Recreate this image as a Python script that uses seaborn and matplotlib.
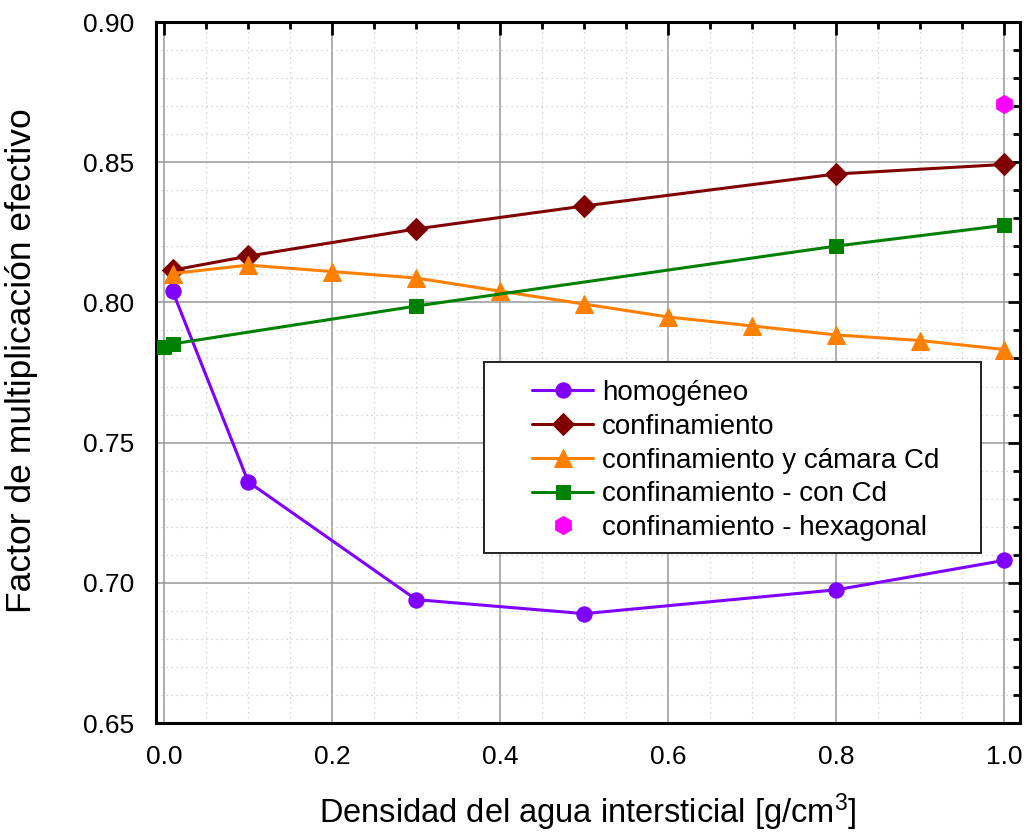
import numpy as np
import pandas as pd
import matplotlib
matplotlib.use("Agg")
import matplotlib.pyplot as plt
import matplotlib.lines as mlines
from matplotlib.patches import Rectangle
import seaborn as sns
from matplotlib.ticker import MultipleLocator, FormatStrFormatter

# ---- data ----
x_homog = [0.01, 0.1, 0.3, 0.5, 0.8, 1.0]
y_homog = [0.804, 0.736, 0.694, 0.689, 0.6975, 0.708]

x_conf = [0.01, 0.1, 0.3, 0.5, 0.8, 1.0]
y_conf = [0.8115, 0.8165, 0.8262, 0.8344, 0.8458, 0.8492]

x_camara = [0.01, 0.1, 0.2, 0.3, 0.4, 0.5, 0.6, 0.7, 0.8, 0.9, 1.0]
y_camara = [0.8103, 0.8133, 0.8110, 0.8087, 0.8040, 0.7994, 0.7948, 0.7916, 0.7884, 0.7864, 0.7832]

x_concd = [0.0, 0.01, 0.3, 0.8, 1.0]
y_concd = [0.7841, 0.7852, 0.7987, 0.8201, 0.8275]

x_hex = [1.0]
y_hex = [0.8706]

labels = ["homogéneo", "confinamiento", "confinamiento y cámara Cd",
          "confinamiento - con Cd", "confinamiento - hexagonal"]
colors = ["#8000FF", "#800000", "#FF8000", "#008000", "#FF00FF"]

sns.set_style("white")
plt.rcParams['font.family'] = ['Liberation Sans', 'DejaVu Sans']
plt.rcParams['mathtext.fontset'] = 'custom'
plt.rcParams['mathtext.rm'] = 'Liberation Sans'
plt.rcParams['mathtext.it'] = 'Liberation Sans'
plt.rcParams['text.color'] = 'black'
plt.rcParams['axes.labelcolor'] = 'black'
plt.rcParams['xtick.color'] = 'black'
plt.rcParams['ytick.color'] = 'black'

W, H = 1025, 838
fig = plt.figure(figsize=(W / 100, H / 100), dpi=100)
ax = fig.add_axes([156 / W, 1 - 723 / H, (1020 - 156) / W, (723 - 22) / H])

series = [
    (x_homog, y_homog, "o", 11),
    (x_conf, y_conf, "D", 11.5),
    (x_camara, y_camara, "^", 13),
    (x_concd, y_concd, "s", 10.5),
]
for (xs, ys, m, ms), lab, col in zip(series, labels[:4], colors[:4]):
    df = pd.DataFrame({"x": xs, "y": ys})
    sns.lineplot(data=df, x="x", y="y", ax=ax, color=col, marker=m,
                 markersize=ms, markeredgecolor=col, linewidth=2.2,
                 label=lab, zorder=3)

df_hex = pd.DataFrame({"x": x_hex, "y": y_hex})
sns.lineplot(data=df_hex, x="x", y="y", ax=ax, color=colors[4], marker="h",
             markersize=13, markeredgecolor=colors[4], linestyle="none",
             label=labels[4], zorder=3)

ax.set_xlim(-0.0098, 1.0187)
ax.set_ylim(0.65, 0.90)
ax.xaxis.set_major_locator(MultipleLocator(0.2))
ax.xaxis.set_minor_locator(MultipleLocator(0.05))
ax.yaxis.set_major_locator(MultipleLocator(0.05))
ax.yaxis.set_minor_locator(MultipleLocator(0.01))
ax.xaxis.set_major_formatter(FormatStrFormatter("%.1f"))
ax.yaxis.set_major_formatter(FormatStrFormatter("%.2f"))

ax.grid(True, which="major", color="#999999", linewidth=1.1, linestyle="-", zorder=0)
ax.grid(True, which="minor", color="#C8C8C8", linewidth=0.9, linestyle=(0, (1, 3)), zorder=0)
ax.set_axisbelow(True)

for s in ax.spines.values():
    s.set_visible(True)
    s.set_color("black")
    s.set_linewidth(2.2)

ax.tick_params(axis="both", which="major", direction="out", length=9, width=2,
               labelsize=19, pad=7, colors="black")
ax.tick_params(axis="both", which="minor", direction="out", length=5, width=2)
ax.tick_params(axis="x", which="both", top=True, labeltop=False)
ax.tick_params(axis="y", which="both", right=True, labelright=False)
for tick in ax.xaxis.get_major_ticks() + ax.xaxis.get_minor_ticks():
    tick.tick2line.set_marker(mlines.TICKDOWN)
for tick in ax.yaxis.get_major_ticks() + ax.yaxis.get_minor_ticks():
    tick.tick2line.set_marker(mlines.TICKLEFT)

ax.set_xlabel("Densidad del agua intersticial [g/cm$^{3}$]", fontsize=23.5,
              labelpad=16, color="black")
ax.set_ylabel("Factor de multiplicación efectivo", fontsize=25.5, color="black")
ax.yaxis.set_label_coords((38 - 156) / 864, (723 - 361) / 701)

# legend frame (box) and entries
fx0, fy0, fx1, fy1 = 484, 362, 981, 553
frame = Rectangle((fx0 / W, 1 - fy1 / H), (fx1 - fx0) / W, (fy1 - fy0) / H,
                  transform=fig.transFigure, facecolor="white",
                  edgecolor="#222222", linewidth=1.4, zorder=4, clip_on=False)
ax.add_patch(frame)

leg = ax.legend(loc="upper left",
                bbox_to_anchor=((532 - 156) / 864, 1 - (380 - 22) / 701),
                fontsize=20, frameon=False, handlelength=2.2, borderpad=0,
                labelspacing=0.28, handletextpad=0.32, borderaxespad=0,
                labelcolor="black")
leg.set_zorder(5)

fig.savefig("out.png", dpi=100)
